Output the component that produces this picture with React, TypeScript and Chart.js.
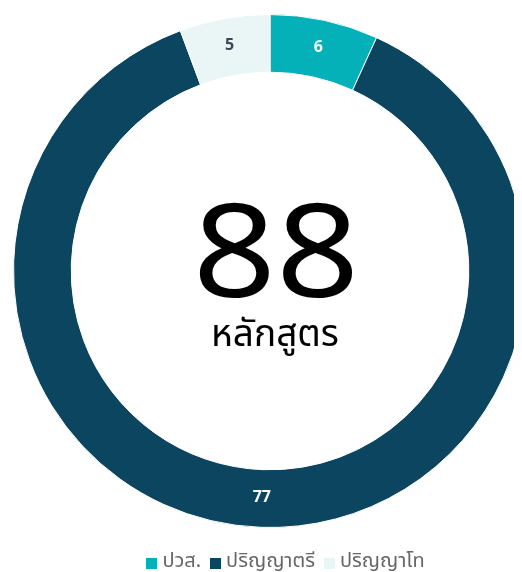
import { useEffect, useRef } from 'react';
import { Chart, registerables } from 'chart.js';

Chart.register(...registerables);

const categories = ['ปวส.', 'ปริญญาตรี', 'ปริญญาโท'];
const values = [6, 77, 5];
const colors = ['#04b1b8', '#0b4560', '#eaf6f5'];
const valueLabelColors = ['#ffffff', '#ffffff', '#3b4656'];
const centerSubtitle = 'หลักสูตร';

const FONT = '"Noto Sans Thai", "Noto Sans", sans-serif';
const LEGEND_FONT = 20;
const LEGEND_BOX = 11;
const LEGEND_DX = 18;
const LEGEND_DY = 5;

function makeSwatch(color: string) {
  const c = document.createElement('canvas');
  c.width = LEGEND_BOX;
  c.height = LEGEND_BOX;
  const g = c.getContext('2d');
  if (g) {
    g.fillStyle = color;
    g.fillRect(0, 0, LEGEND_BOX, LEGEND_BOX);
  }
  return c;
}

const valueLabelPlugin = {
  id: 'valueLabels',
  afterDatasetsDraw(chart: any) {
    const ctx = chart.ctx;
    const meta = chart.getDatasetMeta(0);
    ctx.save();
    ctx.font = `bold 16px ${FONT}`;
    ctx.textAlign = 'center';
    ctx.textBaseline = 'middle';
    meta.data.forEach((arc: any, i: number) => {
      const p = arc.getCenterPoint();
      ctx.fillStyle = valueLabelColors[i];
      ctx.fillText(String(values[i]), p.x, p.y);
    });
    ctx.restore();
  },
};

const centerTextPlugin = {
  id: 'centerText',
  afterDatasetsDraw(chart: any) {
    const ctx = chart.ctx;
    const arc = chart.getDatasetMeta(0).data[0];
    if (!arc) return;
    const cx = arc.x;
    const cy = arc.y;
    const total = values.reduce((a, b) => a + b, 0);
    ctx.save();
    ctx.fillStyle = '#000000';
    ctx.textAlign = 'center';
    ctx.textBaseline = 'alphabetic';
    ctx.save();
    ctx.translate(cx + 6, cy + 26);
    ctx.scale(1.12, 1);
    ctx.font = `400 130px ${FONT}`;
    ctx.fillText(String(total), 0, 0);
    ctx.restore();
    ctx.font = `400 37px ${FONT}`;
    ctx.fillText(centerSubtitle, cx + 5, cy + 75);
    ctx.restore();
  },
};

const legendShiftPlugin = {
  id: 'legendShift',
  afterLayout(chart: any) {
    const l = chart.legend;
    if (!l) return;
    l.top += LEGEND_DY;
    l.bottom += LEGEND_DY;
    l.left += LEGEND_DX;
    l.right += LEGEND_DX;
  },
};

export default function App() {
  const ref = useRef<HTMLCanvasElement | null>(null);
  useEffect(() => {
    if (!ref.current) return;
    const swatches = colors.map(makeSwatch);
    const chart = new Chart(ref.current, {
      type: 'doughnut',
      data: {
        labels: categories,
        datasets: [
          {
            data: values,
            backgroundColor: colors,
            borderColor: '#ffffff',
            borderWidth: 1,
            hoverOffset: 0,
          },
        ],
      },
      options: {
        animation: false,
        responsive: true,
        maintainAspectRatio: false,
        cutout: '77.5%',
        layout: { padding: { left: 5, right: 5, top: 0, bottom: 0 } },
        plugins: {
          tooltip: { enabled: false },
          legend: {
            display: true,
            position: 'bottom',
            labels: {
              usePointStyle: true,
              boxWidth: 1,
              boxHeight: LEGEND_BOX,
              padding: 14,
              color: '#666666',
              font: { size: LEGEND_FONT, family: FONT },
              generateLabels: (c: any) =>
                c.data.labels.map((label: string, i: number) => ({
                  text: label,
                  fillStyle: colors[i],
                  strokeStyle: colors[i],
                  lineWidth: 0,
                  fontColor: '#666666',
                  pointStyle: swatches[i],
                  hidden: false,
                  index: i,
                })),
            },
          },
        },
      },
      plugins: [valueLabelPlugin, centerTextPlugin, legendShiftPlugin],
    });
    return () => chart.destroy();
  }, []);
  return (
    <div style={{ width: 514, overflow: 'hidden' }}>
      <div style={{ position: 'relative', width: 524, height: 570 }}>
        <canvas ref={ref} />
      </div>
    </div>
  );
}
